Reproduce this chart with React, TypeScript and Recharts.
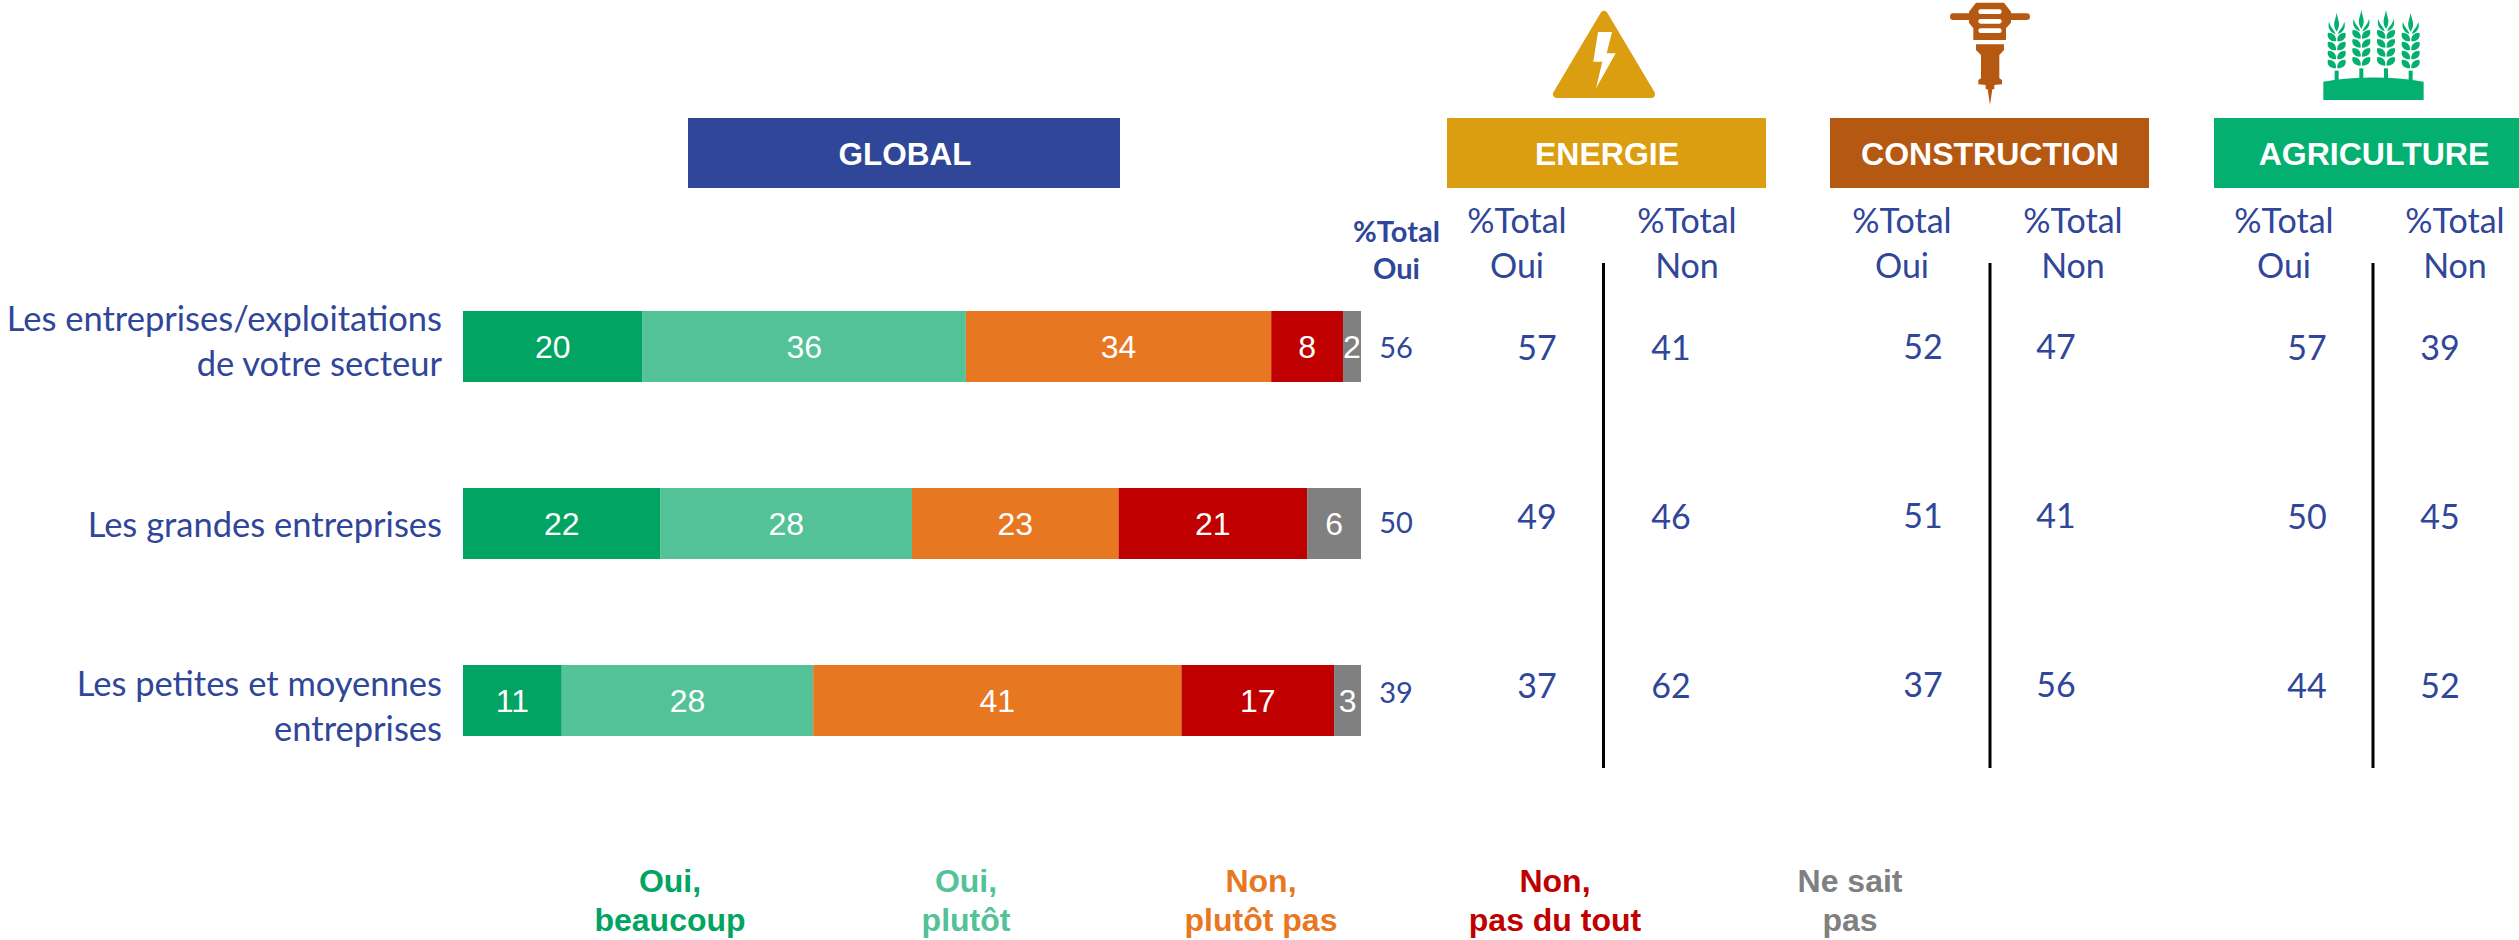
import { Bar, BarChart, LabelList, XAxis, YAxis } from 'recharts';

const categories = [
  'Les entreprises/exploitations\nde votre secteur',
  'Les grandes entreprises',
  'Les petites et moyennes\nentreprises',
];

const ouiBeaucoup = [20, 22, 11];
const ouiPlutot = [36, 28, 28];
const nonPlutotPas = [34, 23, 41];
const nonPasDuTout = [8, 21, 17];
const neSaitPas = [2, 6, 3];

const totalOuiGlobal = [56, 50, 39];
const energieOui = [57, 49, 37];
const energieNon = [41, 46, 62];
const constructionOui = [52, 51, 37];
const constructionNon = [47, 41, 56];
const agricultureOui = [57, 50, 44];
const agricultureNon = [39, 45, 52];

const chartData = categories.map((name, i) => ({
  name,
  ouiBeaucoup: ouiBeaucoup[i],
  ouiPlutot: ouiPlutot[i],
  nonPlutotPas: nonPlutotPas[i],
  nonPasDuTout: nonPasDuTout[i],
  neSaitPas: neSaitPas[i],
}));

const BLUE = '#2F4699';
const CALIBRI = 'Lato, sans-serif';
const ARIAL = '"Liberation Sans", Arial, sans-serif';

const SERIES = [
  { key: 'ouiBeaucoup', color: '#02A463', legend: ['Oui,', 'beaucoup'], legendX: 670 },
  { key: 'ouiPlutot', color: '#53C298', legend: ['Oui,', 'plutôt'], legendX: 966 },
  { key: 'nonPlutotPas', color: '#E87722', legend: ['Non,', 'plutôt pas'], legendX: 1261 },
  { key: 'nonPasDuTout', color: '#C00000', legend: ['Non,', 'pas du tout'], legendX: 1555 },
  { key: 'neSaitPas', color: '#808080', legend: ['Ne sait', 'pas'], legendX: 1850 },
];

const SECTORS = [
  { name: 'ENERGIE', color: '#DA9E10', x: 1447, ouiX: 1517, nonX: 1687, valOuiX: 1537, valNonX: 1671, lineX: 1603.5, dy: 0, oui: energieOui, non: energieNon },
  { name: 'CONSTRUCTION', color: '#B55812', x: 1830, ouiX: 1902, nonX: 2073, valOuiX: 1923, valNonX: 2056, lineX: 1990, dy: -1.5, oui: constructionOui, non: constructionNon },
  { name: 'AGRICULTURE', color: '#04B070', x: 2214, ouiX: 2284, nonX: 2455, valOuiX: 2307, valNonX: 2440, lineX: 2373, dy: 0, oui: agricultureOui, non: agricultureNon },
];

const SECTOR_ROW_Y = [360, 529, 698];
const GLOBAL_ROW_Y = [357.5, 533, 703];
const LABEL_ROW_Y = [
  [331, 376],
  [536.5],
  [696, 741],
];

function CategoryTick({ y, payload, index }: any) {
  const lines = String(payload.value).split('\n');
  const rows = LABEL_ROW_Y[index] ?? lines.map((_, i) => y + i * 45);
  return (
    <g>
      {lines.map((line, i) => (
        <text key={i} x={442} y={rows[i]} textAnchor="end" fontFamily={CALIBRI} fontSize={34.5} fill={BLUE}>
          {line}
        </text>
      ))}
    </g>
  );
}

function EnergyIcon() {
  return (
    <g>
      <polygon points="1604,15 1557,94 1651,94" fill="#DA9E10" stroke="#DA9E10" strokeWidth={8} strokeLinejoin="round" />
      <polygon points="1598,32 1612,32 1606.7,53.3 1615.7,53.3 1596,88.3 1602.3,61.7 1593.3,61.7" fill="#fff" />
    </g>
  );
}

function HammerIcon() {
  return (
    <g transform="translate(1930 0) scale(0.3333)" fill="#B55812">
      <line x1={70} y1={50} x2={290} y2={50} stroke="#B55812" strokeWidth={20} strokeLinecap="round" />
      <polygon points="138,8 222,8 243,35 243,68 228,85 228,120 130,120 130,85 117,68 117,35" />
      {[28, 57, 85].map(y => (
        <rect key={y} x={145} y={y} width={70} height={14} rx={7} fill="#fff" />
      ))}
      <polygon points="138,133 222,133 222,150 208,165 208,235 216,240 216,253 193,255 193,268 187,268 180,315 173,268 167,268 167,255 145,253 145,240 153,235 153,165 138,150" />
    </g>
  );
}

function WheatEar({ cx, top, stalk }: { cx: number; top: number; stalk: number }) {
  const rows = [top + 60, top + 87, top + 114, top + 141];
  return (
    <g>
      <rect x={cx - 6} y={stalk} width={12} height={36} />
      <path d={`M${cx} ${top} C${cx + 3} ${top + 22} ${cx + 15} ${top + 34} ${cx} ${top + 57} C${cx - 15} ${top + 34} ${cx - 3} ${top + 22} ${cx} ${top}Z`} />
      <path d={`M${cx - 23} ${top + 27} C${cx - 28} ${top + 46} ${cx - 20} ${top + 58} ${cx - 4} ${top + 64} C${cx - 6} ${top + 50} ${cx - 18} ${top + 48} ${cx - 23} ${top + 27}Z`} />
      <path d={`M${cx + 23} ${top + 27} C${cx + 28} ${top + 46} ${cx + 20} ${top + 58} ${cx + 4} ${top + 64} C${cx + 6} ${top + 50} ${cx + 18} ${top + 48} ${cx + 23} ${top + 27}Z`} />
      {rows.map(y => (
        <g key={y}>
          <path d={`M${cx - 2} ${y + 26} C${cx - 24} ${y + 26} ${cx - 30} ${y + 12} ${cx - 26} ${y} C${cx - 10} ${y} ${cx} ${y + 10} ${cx - 2} ${y + 26}Z`} />
          <path d={`M${cx + 2} ${y + 26} C${cx + 24} ${y + 26} ${cx + 30} ${y + 12} ${cx + 26} ${y} C${cx + 10} ${y} ${cx} ${y + 10} ${cx + 2} ${y + 26}Z`} />
        </g>
      ))}
    </g>
  );
}

function WheatIcon() {
  return (
    <g transform="translate(2310 0) scale(0.3333)" fill="#04B070">
      <WheatEar cx={80} top={38} stalk={212} />
      <WheatEar cx={154} top={30} stalk={205} />
      <WheatEar cx={228} top={30} stalk={205} />
      <WheatEar cx={302} top={38} stalk={212} />
      <path d="M40 245 Q190 220 341 245 L341 300 L40 300 Z" />
    </g>
  );
}

function ColumnHead({ x, y, last, bold, size }: { x: number; y: number[]; last: string; bold?: boolean; size: number }) {
  return (
    <g fontFamily={CALIBRI} fontSize={size} fontWeight={bold ? 700 : 400} fill={BLUE} textAnchor="middle">
      <text x={x} y={y[0]}>%Total</text>
      <text x={x} y={y[1]}>{last}</text>
    </g>
  );
}

export default function App() {
  return (
    <div style={{ position: 'absolute', left: 0, top: 0, width: 2519, height: 940, overflow: 'hidden', background: '#fff' }}>
      <BarChart
        width={2519}
        height={940}
        data={chartData}
        layout="vertical"
        margin={{ top: 258, right: 1158, bottom: 151, left: 0 }}
        barSize={71}
      >
        <XAxis type="number" domain={[0, 100]} hide />
        <YAxis type="category" dataKey="name" width={463} axisLine={false} tickLine={false} tick={<CategoryTick />} interval={0} />
        {SERIES.map(s => (
          <Bar key={s.key} dataKey={s.key} stackId="a" fill={s.color} isAnimationActive={false}>
            <LabelList dataKey={s.key} position="center" fill="#fff" fontFamily={ARIAL} fontSize={32} />
          </Bar>
        ))}

        {/* bandeaux */}
        <rect x={688} y={118} width={432} height={70} fill={BLUE} />
        <text x={905} y={165} textAnchor="middle" fontFamily={ARIAL} fontWeight={700} fontSize={31.5} fill="#fff">GLOBAL</text>
        {SECTORS.map(s => (
          <g key={s.name}>
            <rect x={s.x} y={118} width={319} height={70} fill={s.color} />
            <text x={s.x + 160} y={165} textAnchor="middle" fontFamily={ARIAL} fontWeight={700} fontSize={32} fill="#fff">{s.name}</text>
            <ColumnHead x={s.ouiX} y={[233, 278]} last="Oui" size={34} />
            <ColumnHead x={s.nonX} y={[233, 278]} last="Non" size={34} />
            <line x1={s.lineX} x2={s.lineX} y1={263} y2={768} stroke="#000" strokeWidth={3} />
            {s.oui.map((v, i) => (
              <text key={i} x={s.valOuiX} y={SECTOR_ROW_Y[i] + s.dy} textAnchor="middle" fontFamily={CALIBRI} fontSize={34} fill={BLUE}>{v}</text>
            ))}
            {s.non.map((v, i) => (
              <text key={i} x={s.valNonX} y={SECTOR_ROW_Y[i] + s.dy} textAnchor="middle" fontFamily={CALIBRI} fontSize={34} fill={BLUE}>{v}</text>
            ))}
          </g>
        ))}

        <ColumnHead x={1396.5} y={[242, 279]} last="Oui" bold size={29} />
        {totalOuiGlobal.map((v, i) => (
          <text key={i} x={1396} y={GLOBAL_ROW_Y[i]} textAnchor="middle" fontFamily={CALIBRI} fontSize={29} fill={BLUE}>{v}</text>
        ))}

        <EnergyIcon />
        <HammerIcon />
        <WheatIcon />

        {/* legende */}
        {SERIES.map(s => (
          <g key={s.key} textAnchor="middle" fontFamily={ARIAL} fontWeight={700} fontSize={32} fill={s.color}>
            <text x={s.legendX} y={892}>{s.legend[0]}</text>
            <text x={s.legendX} y={930.5}>{s.legend[1]}</text>
          </g>
        ))}
      </BarChart>
    </div>
  );
}
